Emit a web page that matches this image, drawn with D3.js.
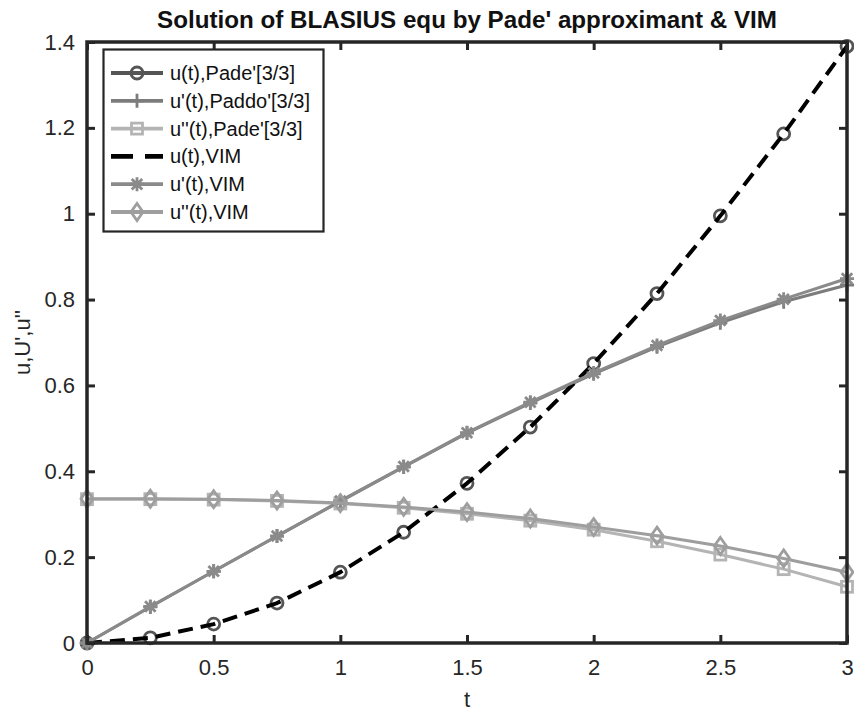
<!DOCTYPE html>
<html><head><meta charset="utf-8">
<script src="https://cdn.jsdelivr.net/npm/d3@7"></script>
<style>body{margin:0;background:#fff}svg{display:block}text{font-family:"Liberation Sans",Arial,sans-serif}</style>
</head><body><svg id="c" width="854" height="713"></svg>
<script>
const tVals = [0,0.25,0.5,0.75,1,1.25,1.5,1.75,2,2.25,2.5,2.75,3];
const uPade   = [0,0.012,0.044,0.093,0.165,0.258,0.372,0.503,0.651,0.814,0.995,1.186,1.39];
const u1Pade  = [0,0.084,0.167,0.249,0.330,0.410,0.489,0.559,0.627,0.690,0.746,0.795,0.834];
const u2Pade  = [0.335,0.335,0.334,0.331,0.325,0.315,0.301,0.285,0.264,0.237,0.206,0.172,0.131];
const uVIM    = [0,0.012,0.044,0.093,0.165,0.258,0.372,0.503,0.651,0.814,0.995,1.186,1.39];
const u1VIM   = [0,0.085,0.167,0.249,0.331,0.411,0.490,0.561,0.629,0.693,0.751,0.801,0.849];
const u2VIM   = [0.336,0.336,0.335,0.332,0.326,0.317,0.305,0.290,0.270,0.250,0.226,0.197,0.165];
const xTicks = [0,0.5,1,1.5,2,2.5,3];
const yTicks = [0,0.2,0.4,0.6,0.8,1,1.2,1.4];
const labels = ["u(t),Pade'[3/3]","u'(t),Paddo'[3/3]","u''(t),Pade'[3/3]","u(t),VIM","u'(t),VIM","u''(t),VIM"];
const titleText = "Solution of BLASIUS equ by Pade' approximant & VIM";

const series = [
  {v:uPade, color:"#555555", marker:"circle", line:false, dash:null, w:3.2},
  {v:u1Pade, color:"#7c7c7c", marker:"plus", line:true, dash:null, w:3},
  {v:u2Pade, color:"#b4b4b4", marker:"square", line:true, dash:null, w:3},
  {v:uVIM, color:"#000000", marker:null, line:true, dash:"15,8", w:4},
  {v:u1VIM, color:"#8a8a8a", marker:"star", line:true, dash:null, w:3},
  {v:u2VIM, color:"#9e9e9e", marker:"diamond", line:true, dash:null, w:3}
];

const svg = d3.select("#c");
const L=87,R=847,T=42,B=643;
const x = d3.scaleLinear().domain([0,3]).range([L,R]);
const y = d3.scaleLinear().domain([0,1.4]).range([B,T]);

function marker(g, type, cx, cy, color){
  const s=7, sw=2.8;
  if(type==="circle") g.append("circle").attr("cx",cx).attr("cy",cy).attr("r",6).attr("fill","none").attr("stroke",color).attr("stroke-width",sw);
  else if(type==="square") g.append("rect").attr("x",cx-5.5).attr("y",cy-5.5).attr("width",11).attr("height",11).attr("fill","none").attr("stroke",color).attr("stroke-width",sw);
  else if(type==="diamond") g.append("path").attr("d",`M${cx},${cy-8.5}L${cx+6},${cy}L${cx},${cy+8.5}L${cx-6},${cy}Z`).attr("fill","none").attr("stroke",color).attr("stroke-width",sw);
  else if(type==="plus") g.append("path").attr("d",`M${cx-s},${cy}H${cx+s}M${cx},${cy-s}V${cy+s}`).attr("stroke",color).attr("stroke-width",sw);
  else if(type==="star"){ const d=s*0.75; g.append("path").attr("d",`M${cx-s},${cy}H${cx+s}M${cx},${cy-s}V${cy+s}M${cx-d},${cy-d}L${cx+d},${cy+d}M${cx-d},${cy+d}L${cx+d},${cy-d}`).attr("stroke",color).attr("stroke-width",sw);}
}

const plot = svg.append("g");
const line = d3.line().x((d,i)=>x(tVals[i])).y(d=>y(d));
series.forEach(s=>{
  if(s.line) plot.append("path").attr("d",line(s.v)).attr("fill","none").attr("stroke",s.color).attr("stroke-width",s.w).attr("stroke-dasharray",s.dash).attr("stroke-linejoin","round");
  if(s.marker) s.v.forEach((d,i)=>marker(plot,s.marker,x(tVals[i]),y(d),s.color));
});

// axes
const ax = svg.append("g");
ax.append("g").attr("transform",`translate(0,${B})`).call(d3.axisBottom(x).tickValues(xTicks).tickFormat(d3.format("")).tickSizeInner(-8).tickSizeOuter(0).tickPadding(16));
ax.append("g").attr("transform",`translate(0,${T})`).call(d3.axisTop(x).tickValues(xTicks).tickFormat("").tickSizeInner(-8).tickSizeOuter(0));
ax.append("g").attr("transform",`translate(${L},0)`).call(d3.axisLeft(y).tickValues(yTicks).tickFormat(d3.format("")).tickSizeInner(-8).tickSizeOuter(0).tickPadding(12));
ax.append("g").attr("transform",`translate(${R},0)`).call(d3.axisRight(y).tickValues(yTicks).tickFormat("").tickSizeInner(-8).tickSizeOuter(0));
ax.selectAll(".domain").remove();
ax.selectAll(".tick line").attr("stroke","#262626").attr("stroke-width",3);
ax.selectAll(".tick text").attr("font-size",22).attr("fill","#262626").attr("font-family","Liberation Sans, Arial, sans-serif");
svg.append("rect").attr("x",L).attr("y",T).attr("width",R-L).attr("height",B-T).attr("fill","none").attr("stroke","#262626").attr("stroke-width",3.5);

// title & labels
svg.append("text").attr("x",(L+R)/2).attr("y",28).attr("text-anchor","middle").attr("font-size",23).attr("font-weight","bold").attr("fill","#111")
  .attr("textLength",620).attr("lengthAdjust","spacingAndGlyphs").text(titleText);
svg.append("text").attr("x",467).attr("y",707).attr("text-anchor","middle").attr("font-size",22).attr("fill","#262626").text("t");
svg.append("text").attr("transform",`translate(30,${(T+B)/2}) rotate(-90)`).attr("text-anchor","middle").attr("font-size",22).attr("fill","#262626").text("u,U',u''");

// legend
const lg = svg.append("g");
lg.append("rect").attr("x",103.5).attr("y",49.5).attr("width",220).attr("height",182).attr("fill","#fff").attr("stroke","#262626").attr("stroke-width",2.2);
series.forEach((s,i)=>{
  const yy = 73 + i*27.8;
  lg.append("line").attr("x1",111).attr("x2",163).attr("y1",yy).attr("y2",yy).attr("stroke",s.color).attr("stroke-width",s.w+0.8).attr("stroke-dasharray",s.dash?"22,12":null);
  if(s.marker) marker(lg,s.marker,137,yy,s.color);
  lg.append("text").attr("x",170).attr("y",yy+7).attr("font-size",20).attr("fill","#111").text(labels[i]);
});
</script></body></html>
